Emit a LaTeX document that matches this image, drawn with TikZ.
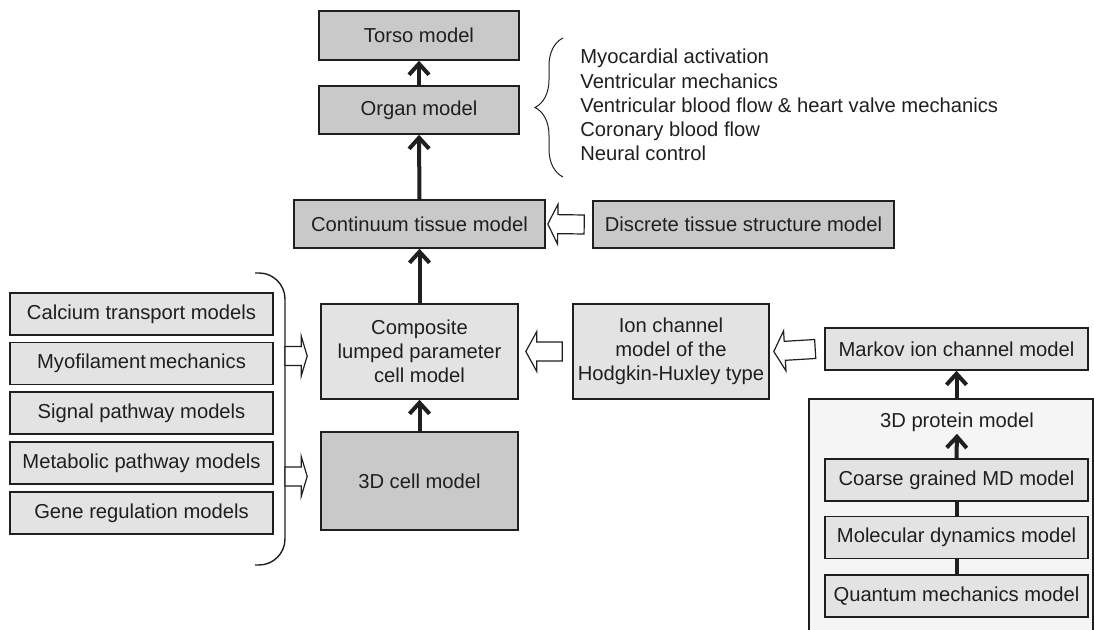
\documentclass[tikz,border=0pt]{standalone}
\usepackage{fontspec}
\setmainfont{Liberation Sans}
\usetikzlibrary{calc,arrows.meta,decorations.pathreplacing}

\definecolor{boxdark}{gray}{0.79}
\definecolor{boxlight}{gray}{0.89}
\definecolor{panelgray}{gray}{0.96}
\definecolor{inkgray}{gray}{0.12}

\newcommand{\figfont}{\fontsize{10.1pt}{12.1pt}\selectfont}

\tikzset{
  box/.style={draw=inkgray, line width=0.8pt, inner sep=2pt, align=center,
    text=inkgray, font=\figfont},
  darkbox/.style={box, fill=boxdark},
  lightbox/.style={box, fill=boxlight},
  uparr/.style={draw=inkgray, line width=2pt, -{Straight Barb[length=5.5pt,width=10pt]}},
  joinline/.style={draw=inkgray, line width=2pt},
  fatarr/.style={draw=inkgray, line width=0.6pt, fill=white, line join=miter},
}

% hollow block arrow: #2 tail, #3 tip, #1 head length
\newcommand{\fatarrow}[3][5pt]{%
  \coordinate (fa tail) at (#2);
  \coordinate (fa tip) at (#3);
  \coordinate (fa base) at ($(fa tip)!#1!(fa tail)$);
  \draw[fatarr] ($(fa tail)!4.75pt!90:(fa tip)$) -- ($(fa base)!4.75pt!90:(fa tip)$)
    -- ($(fa base)!10pt!90:(fa tip)$) -- (fa tip)
    -- ($(fa base)!10pt!-90:(fa tip)$) -- ($(fa base)!4.75pt!-90:(fa tip)$)
    -- ($(fa tail)!4.75pt!-90:(fa tip)$) -- cycle;
}

\begin{document}
\begin{tikzpicture}[x=0.5pt, y=-0.5pt]

\useasboundingbox (0,0) rectangle (1094,630);

% Protein panel in the corner
\fill[panelgray] (809,399) rectangle (1094,630);
\draw[inkgray, line width=0.7pt] (809,630) -- (809,399) -- (1093,399) -- (1093,630);
\coordinate (paneltop) at (956.5,399);

% Main column
\node[darkbox, minimum width=100pt, minimum height=24.5pt] (torso) at (419,35.5) {Torso model};
\node[darkbox, minimum width=100pt, minimum height=24pt] (organ) at (419,110) {Organ model};
\node[darkbox, minimum width=125.5pt, minimum height=24pt] (continuum) at (419.5,224) {Continuum tissue model};
\node[darkbox, minimum width=150.5pt, minimum height=23.5pt] (discrete) at (743.5,224.5) {Discrete tissue structure model};
\node[lightbox, minimum width=98.5pt, minimum height=47.5pt] (composite) at (419.5,351.5)
  {Composite\\lumped parameter\\cell model};
\node[lightbox, minimum width=98pt, minimum height=47.5pt] (ionchannel) at (671,351.5)
  {Ion channel\\model of the\\Hodgkin-Huxley type};
\node[darkbox, minimum width=98.5pt, minimum height=49pt] (cell3d) at (419.5,481) {3D cell model};

% Protein side
\node[lightbox, minimum width=131.5pt, minimum height=21pt] (markov) at (956.5,349) {Markov ion channel model};
\node[text=inkgray, font=\figfont, inner sep=1pt] (protein) at (957,422) {3D protein model};
\node[lightbox, minimum width=131.5pt, minimum height=21pt] (coarse) at (956.5,480) {Coarse grained MD model};
\node[lightbox, minimum width=131.5pt, minimum height=21pt] (molecular) at (956.5,537.5) {Molecular dynamics model};
\node[lightbox, minimum width=131.5pt, minimum height=21pt] (quantum) at (956.5,596) {Quantum mechanics model};

% Sub-cellular models on the left
\node[lightbox, minimum width=131.5pt, minimum height=21pt] (calcium) at (141.5,314) {Calcium transport models};
\node[lightbox, minimum width=131.5pt, minimum height=21pt] (myofil) at (141.5,363.5) {Myofilament\,mechanics};
\node[lightbox, minimum width=131.5pt, minimum height=21pt] (signal) at (141.5,413) {Signal pathway models};
\node[lightbox, minimum width=131.5pt, minimum height=21pt] (metabolic) at (141.5,463) {Metabolic pathway models};
\node[lightbox, minimum width=131.5pt, minimum height=21pt] (genereg) at (141.5,513) {Gene regulation models};

% Bracket round the left list
\draw[inkgray, line width=0.7pt, rounded corners=13pt] (255,273) -- (285,273) -- (285,565) -- (255,565);
\coordinate (brtop) at (285,356);
\coordinate (brbot) at (285,476.5);

% Brace and organ-level list
\draw[inkgray, line width=0.5pt, decorate, decoration={brace, amplitude=14pt}] (563,177) -- (563,38);
\node[anchor=west, align=left, text=inkgray, font=\figfont, inner sep=0pt] (organlist) at (580,105)
  {Myocardial activation\\Ventricular mechanics\\Ventricular blood flow \& heart valve mechanics\\Coronary blood flow\\Neural control};

% Thick arrows up the hierarchy
\draw[uparr] (organ.north) -- (torso.south);
\draw[uparr] (continuum.north) -- (organ.south);
\draw[uparr] (composite.north) -- (continuum.south);
\draw[uparr] (cell3d.north) -- (composite.south);
\draw[uparr] (paneltop) -- (markov.south);
\draw[uparr] (coarse.north) -- (protein.south);
\draw[joinline] (molecular.north) -- (coarse.south);
\draw[joinline] (quantum.north) -- (molecular.south);

% Hollow arrows
\fatarrow{$(discrete.west)+(-8,0)$}{$(continuum.east)+(2,0)$}
\fatarrow[5.5pt]{$(ionchannel.west)+(-10,0)$}{$(composite.east)+(7,0)$}
\fatarrow[5.5pt]{$(markov.west)+(-9,0)$}{$(ionchannel.east)+(4,0)$}
\fatarrow[3pt]{brtop}{$(brtop -| composite.west)+(-13,0)$}
\fatarrow[3pt]{brbot}{$(brbot -| cell3d.west)+(-13,0)$}

\end{tikzpicture}
\end{document}
